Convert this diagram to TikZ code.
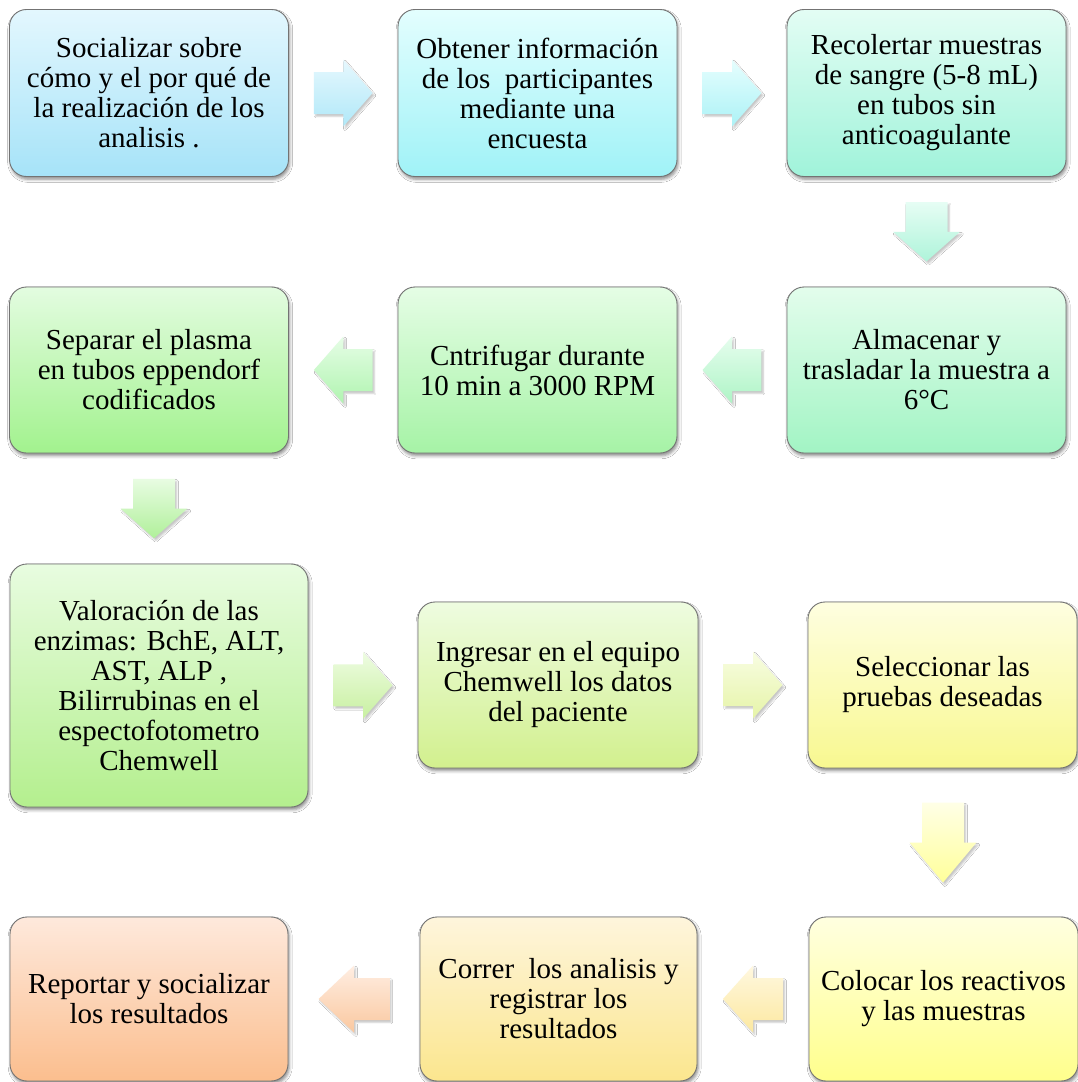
\documentclass[tikz,border=0pt]{standalone}
\usepackage{fontspec}
\setmainfont{Liberation Serif}
\usetikzlibrary{calc,shadows.blur}

\newcommand\boxfont{\fontsize{29}{30}\selectfont}

% box colours (top / bottom)
\definecolor{c1t}{HTML}{E3F7FE}\definecolor{c1b}{HTML}{A6E3F8}
\definecolor{c2t}{HTML}{E3FEFE}\definecolor{c2b}{HTML}{A0F2F7}
\definecolor{c3t}{HTML}{E3FDF4}\definecolor{c3b}{HTML}{A0F3DA}
\definecolor{c6t}{HTML}{E3FDEC}\definecolor{c6b}{HTML}{A2F4C4}
\definecolor{c5t}{HTML}{E5FDE5}\definecolor{c5b}{HTML}{A6F3A6}
\definecolor{c4t}{HTML}{E3FCE0}\definecolor{c4b}{HTML}{A2F28E}
\definecolor{c7t}{HTML}{E8FCE0}\definecolor{c7b}{HTML}{B4EF8E}
\definecolor{c8t}{HTML}{EEFCE0}\definecolor{c8b}{HTML}{D2F08E}
\definecolor{c9t}{HTML}{FEFEE0}\definecolor{c9b}{HTML}{F8F890}
\definecolor{c12t}{HTML}{FFFFE0}\definecolor{c12b}{HTML}{FFFF8C}
\definecolor{c11t}{HTML}{FEF5DC}\definecolor{c11b}{HTML}{FBE68E}
\definecolor{c10t}{HTML}{FEE9DC}\definecolor{c10b}{HTML}{FBBE8E}
\definecolor{boxline}{RGB}{115,115,115}

% arrow colours
\definecolor{a1t}{HTML}{E6F8FE}\definecolor{a1b}{HTML}{B0E8F8}
\definecolor{a2t}{HTML}{E6FEFE}\definecolor{a2b}{HTML}{ACF2F6}
\definecolor{a3t}{HTML}{E6FDF4}\definecolor{a3b}{HTML}{AEF4DA}
\definecolor{a4t}{HTML}{E6FDEE}\definecolor{a4b}{HTML}{AEF4C6}
\definecolor{a5t}{HTML}{E6FDE6}\definecolor{a5b}{HTML}{B0F4B0}
\definecolor{a6t}{HTML}{E8FCE2}\definecolor{a6b}{HTML}{B0F09A}
\definecolor{a7t}{HTML}{EEFCE2}\definecolor{a7b}{HTML}{C8F0A0}
\definecolor{a8t}{HTML}{F8FDE2}\definecolor{a8b}{HTML}{E6F4A8}
\definecolor{a9t}{HTML}{FFFFE6}\definecolor{a9b}{HTML}{FFFF9A}
\definecolor{a10t}{HTML}{FFF8E0}\definecolor{a10b}{HTML}{FCE8A0}
\definecolor{a11t}{HTML}{FFEEE2}\definecolor{a11b}{HTML}{FAC8A0}

\tikzset{
  flowbox/.style={rounded corners=17pt, draw=boxline, line width=0.9pt,
    minimum width=279pt, minimum height=167pt, align=center, font=\boxfont,
    inner sep=4pt,
    blur shadow={shadow xshift=1.2pt, shadow yshift=-2.8pt, shadow blur radius=3pt, shadow opacity=45}},
  arrowshape/.style={draw=none,
    blur shadow={shadow xshift=1.8pt, shadow yshift=-2.4pt, shadow blur radius=1.5pt, shadow opacity=22}}
}

% horizontal block arrow between two anchors
\newcommand\harrow[4]{%
  \coordinate (ha) at ($(#1)!0.23!(#2)$);
  \coordinate (hb) at ($(#1)!0.5!(#2)$);
  \coordinate (hc) at ($(#1)!0.77!(#2)$);
  \path[arrowshape, top color=#3, bottom color=#4]
    ($(ha|-hb)+(0,-21)$) -- ($(hb)+(0,-21)$) -- ($(hb)+(0,-33.5)$) -- (hc|-hb)
    -- ($(hb)+(0,33.5)$) -- ($(hb)+(0,21)$) -- ($(ha|-hb)+(0,21)$) -- cycle;}
% vertical block arrow between two anchors
\newcommand\varrow[4]{%
  \coordinate (va) at ($(#1)!0.23!(#2)$);
  \coordinate (vb) at ($(#1)!0.5!(#2)$);
  \coordinate (vc) at ($(#1)!0.77!(#2)$);
  \path[arrowshape, top color=#3, bottom color=#4]
    ($(vb|-va)+(-21,0)$) -- ($(vb)+(-21,0)$) -- ($(vb)+(-33.5,0)$) -- (vb|-vc)
    -- ($(vb)+(33.5,0)$) -- ($(vb)+(21,0)$) -- ($(vb|-va)+(21,0)$) -- cycle;}

\begin{document}
\begin{tikzpicture}[x=1pt,y=-1pt]
\useasboundingbox[fill=white] (0,0) rectangle (1078,1082);

% row 1
\node[flowbox, top color=c1t, bottom color=c1b] (b1) at (149,93)
  {Socializar sobre\\cómo y el por qué de\\la realización de los\\analisis .};
\node[flowbox, top color=c2t, bottom color=c2b] (b2) at (537.5,93)
  {Obtener información\\de los\ \ participantes\\mediante una\\encuesta};
\node[flowbox, top color=c3t, bottom color=c3b] (b3) at (926.5,93)
  {Recolertar muestras\\de sangre (5-8 mL)\\en tubos sin\\anticoagulante};

% row 2
\node[flowbox, top color=c6t, bottom color=c6b, minimum height=166pt] (b6) at (926.5,370)
  {Almacenar y\\trasladar la muestra a\\6°C};
\node[flowbox, top color=c5t, bottom color=c5b, minimum height=166pt] (b5) at (537.5,370)
  {Cntrifugar durante\\10 min a 3000 RPM};
\node[flowbox, top color=c4t, bottom color=c4b, minimum height=166pt] (b4) at (149,370)
  {Separar el plasma\\en tubos eppendorf\\codificados};

% row 3
\node[flowbox, top color=c7t, bottom color=c7b, minimum width=298pt, minimum height=243pt] (b7) at (159,685.5)
  {Valoración de las\\enzimas: BchE, ALT,\\AST, ALP ,\\Bilirrubinas en el\\espectofotometro\\Chemwell};
\node[flowbox, top color=c8t, bottom color=c8b, minimum width=280pt, minimum height=166pt] (b8) at (558,685)
  {Ingresar en el equipo\\Chemwell los datos\\del paciente};
\node[flowbox, top color=c9t, bottom color=c9b, minimum width=269pt, minimum height=166pt] (b9) at (942.5,685)
  {Seleccionar las\\pruebas deseadas};

% row 4
\node[flowbox, top color=c12t, bottom color=c12b, minimum width=269pt, minimum height=164pt] (b12) at (943.5,999)
  {Colocar los reactivos\\y las muestras};
\node[flowbox, top color=c11t, bottom color=c11b, minimum width=277pt, minimum height=164pt] (b11) at (558.5,999)
  {Correr\ \ los analisis y\\registrar los\\resultados};
\node[flowbox, top color=c10t, bottom color=c10b, minimum width=278pt, minimum height=164pt] (b10) at (149,999)
  {Reportar y socializar\\los resultados};

% block arrows
\harrow{b1.east}{b2.west}{a1t}{a1b}
\harrow{b2.east}{b3.west}{a2t}{a2b}
\varrow{b3.south}{b6.north}{a3t}{a3b}
\harrow{b6.west}{b5.east}{a4t}{a4b}
\harrow{b5.west}{b4.east}{a5t}{a5b}
\varrow{b4.south}{b7.north}{a6t}{a6b}
\harrow{b7.east}{b8.west}{a7t}{a7b}
\harrow{b8.east}{b9.west}{a8t}{a8b}
\varrow{b9.south}{b12.north}{a9t}{a9b}
\harrow{b12.west}{b11.east}{a10t}{a10b}
\harrow{b11.west}{b10.east}{a11t}{a11b}
\end{tikzpicture}
\end{document}
